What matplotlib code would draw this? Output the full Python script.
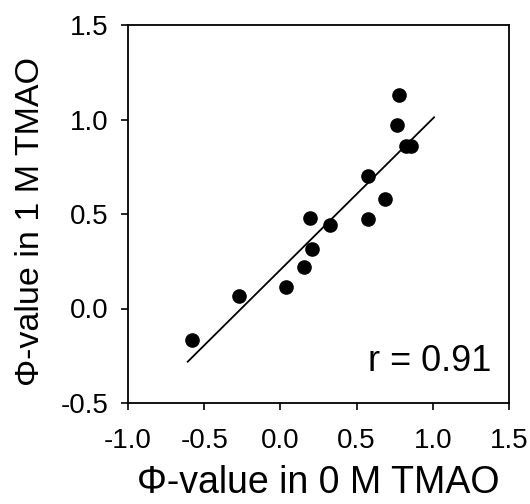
import matplotlib
matplotlib.use("Agg")
import matplotlib.pyplot as plt
import numpy as np

plt.rcParams['font.family'] = ['Liberation Sans', 'DejaVu Sans']

phi_0M = [-0.58, -0.27, 0.035, 0.157, 0.21, 0.196, 0.328, 0.577, 0.577, 0.686, 0.763, 0.781, 0.824, 0.855]
phi_1M = [-0.167, 0.068, 0.112, 0.221, 0.313, 0.48, 0.44, 0.474, 0.701, 0.581, 0.969, 1.13, 0.86, 0.86]
fit_x = [-0.608, 1.008]
fit_slope = 0.80
fit_intercept = 0.205
r_value = 0.91
xticks = [-1.0, -0.5, 0.0, 0.5, 1.0, 1.5]
yticks = [-0.5, 0.0, 0.5, 1.0, 1.5]

fig = plt.figure(figsize=(5.3, 5.04), dpi=100)
ax = fig.add_axes([128/530, 1-403/504, (509-128)/530, (403-25)/504])

fx = np.array(fit_x)
ax.plot(fx, fit_slope*fx + fit_intercept, color='black', lw=1.3)
ax.plot(phi_0M, phi_1M, 'o', color='black', ms=9.5, zorder=3)

ax.set_xlim(-1.0, 1.5)
ax.set_ylim(-0.5, 1.5)
ax.set_xticks(xticks)
ax.set_yticks(yticks)
ax.set_xticklabels([f"{t:.1f}" for t in xticks])
ax.set_yticklabels([f"{t:.1f}" for t in yticks])
ax.tick_params(direction='out', length=5, width=1.2, labelsize=20)
ax.tick_params(axis='x', pad=13)
ax.tick_params(axis='y', pad=9)
for s in ax.spines.values():
    s.set_linewidth(1.3)

ax.set_xlabel("Φ-value in 0 M TMAO", fontsize=27)
ax.set_ylabel("Φ-value in 1 M TMAO", fontsize=24.5)
ax.xaxis.label.set_va('center')
ax.yaxis.label.set_va('center')
ax.xaxis.set_label_coords(0.5, -0.212)
ax.yaxis.set_label_coords(-0.257, 0.48)
ax.text(0.955, 0.085, f"r = {r_value:.2f}", transform=ax.transAxes, ha='right', va='baseline', fontsize=26)

fig.savefig("out.png", dpi=100)
